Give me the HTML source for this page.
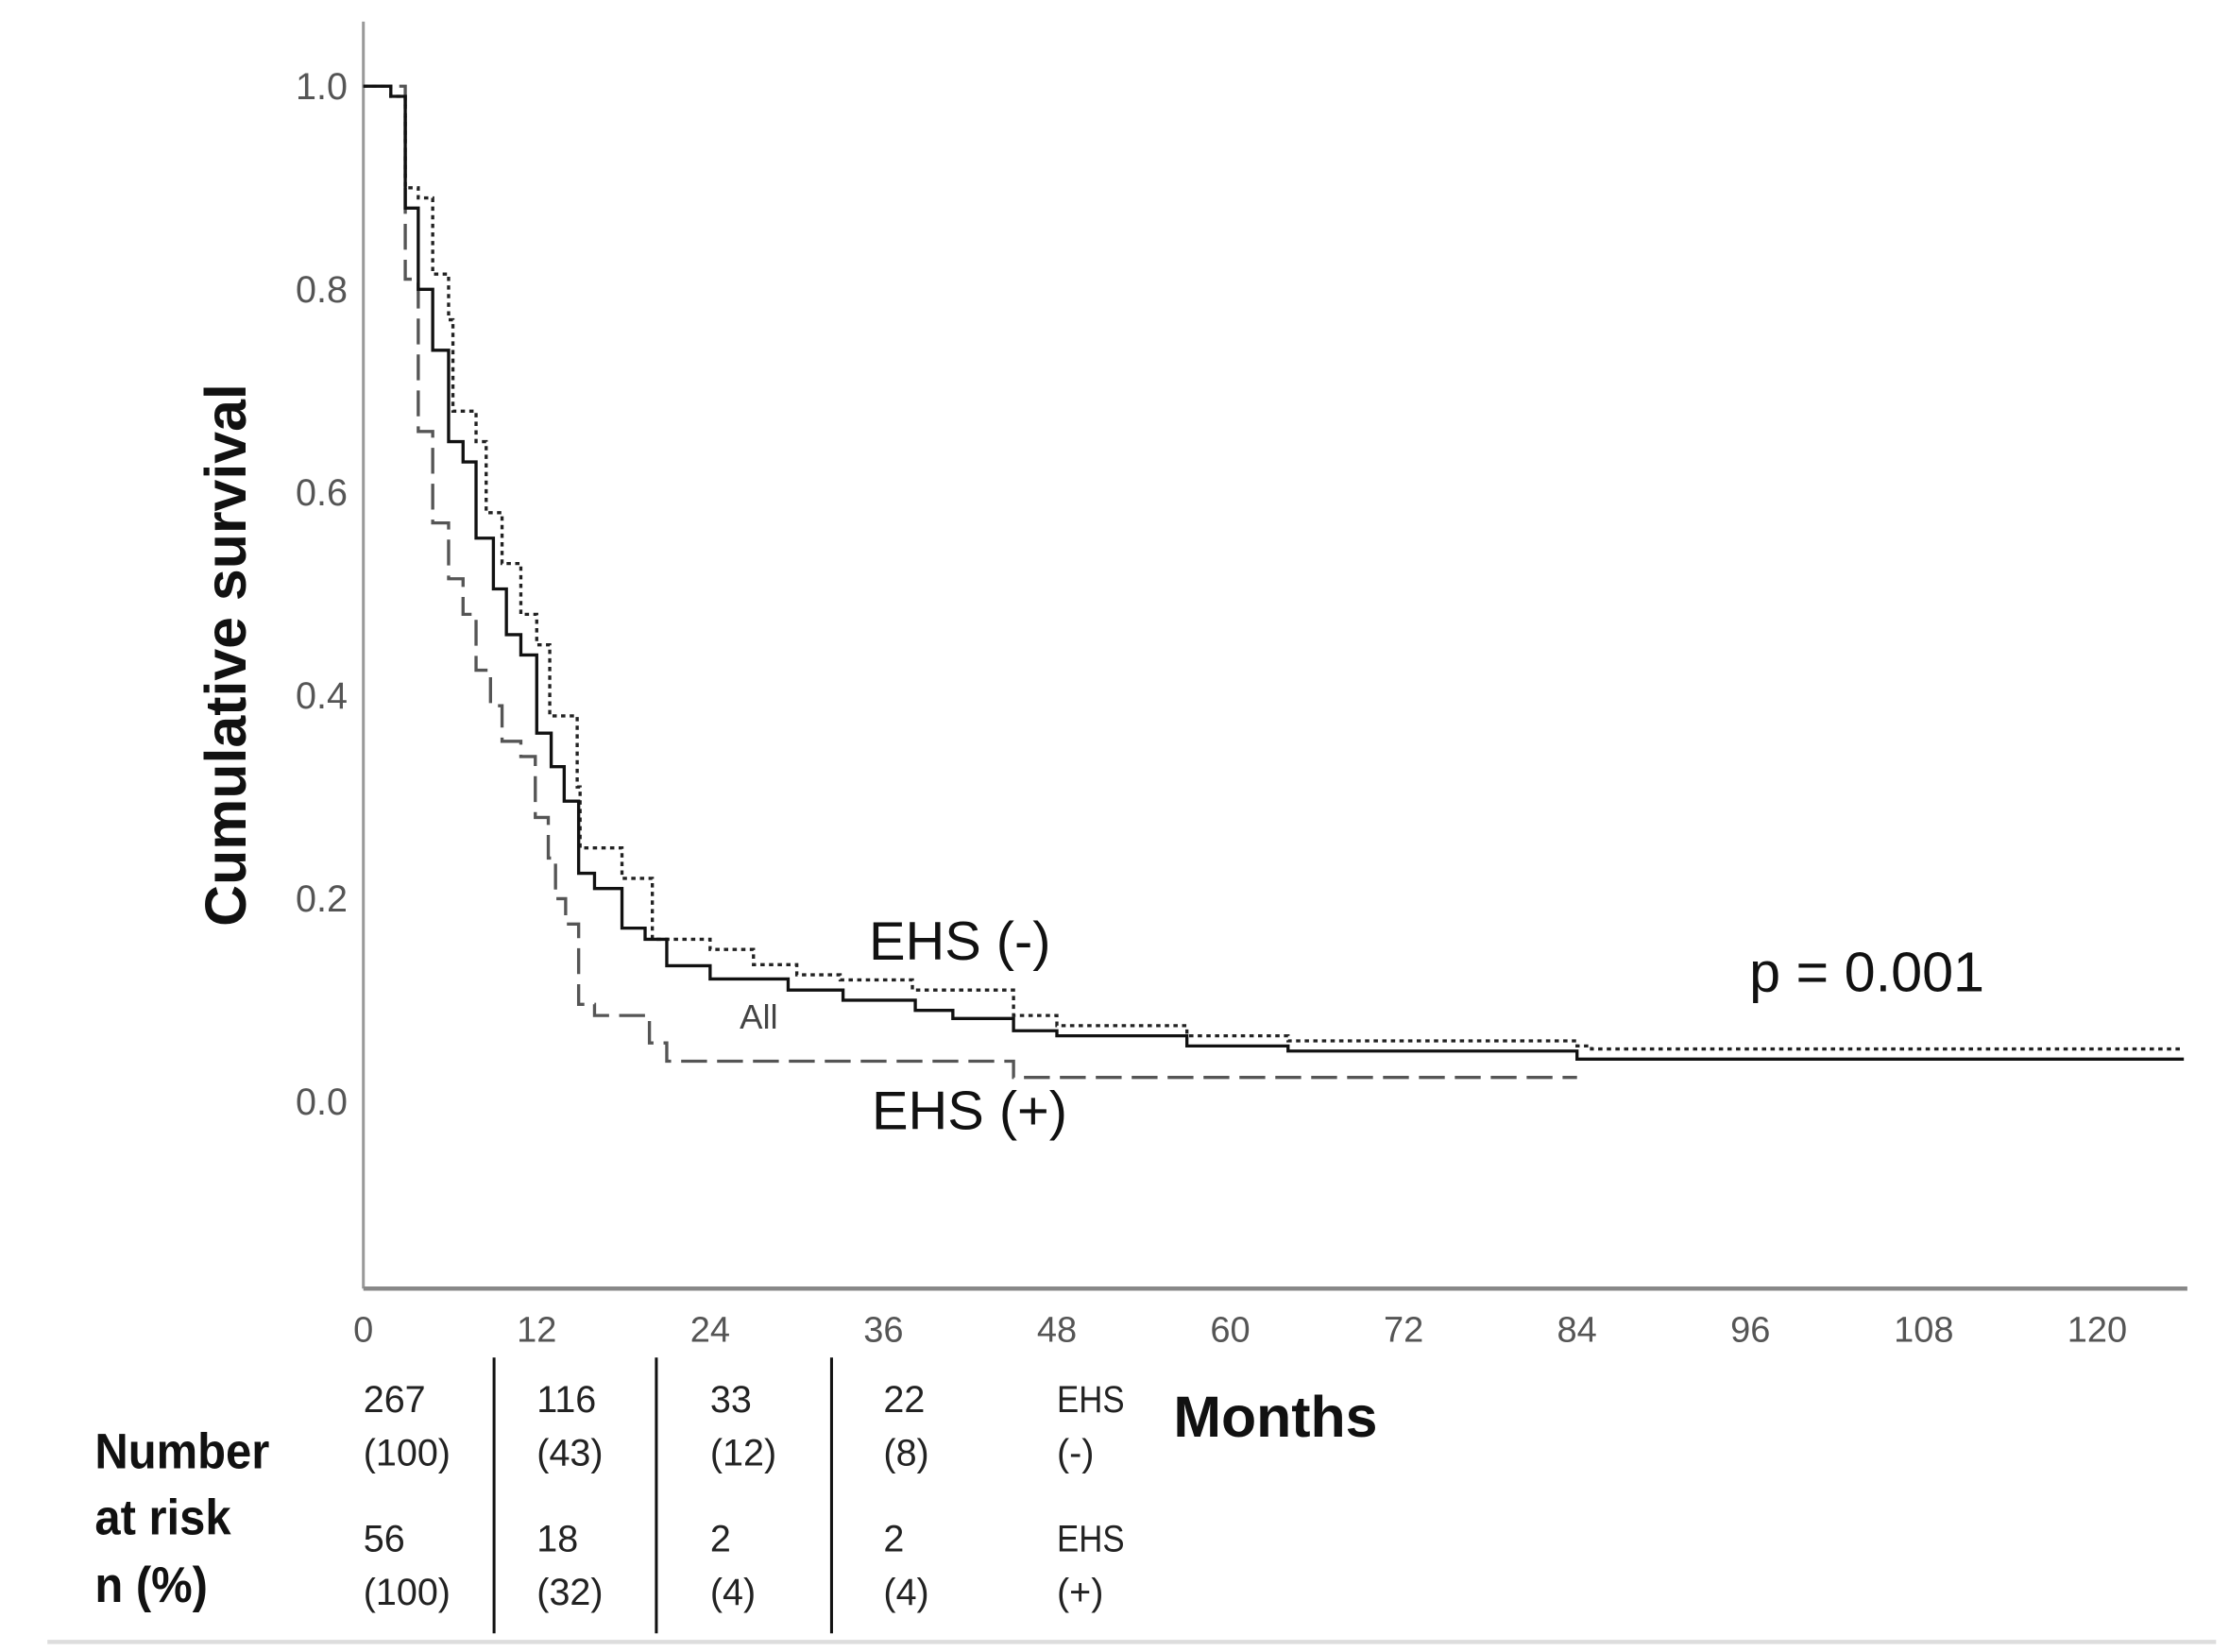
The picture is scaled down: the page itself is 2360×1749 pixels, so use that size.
<!DOCTYPE html>
<html><head><meta charset="utf-8"><style>
html,body{margin:0;padding:0;background:#fff;}
svg{display:block;}
text{font-family:"Liberation Sans",sans-serif;}
</style></head><body>
<svg id="chart" width="2360" height="1749" viewBox="0 0 1552 1150" preserveAspectRatio="none" xmlns="http://www.w3.org/2000/svg">
<rect x="0" y="0" width="1552" height="1150" fill="#fff"/>
<line x1="253" y1="15" x2="253" y2="897" stroke="#999" stroke-width="2"/>
<line x1="253" y1="897" x2="1523" y2="897" stroke="#888" stroke-width="3"/>
<g id="yticks"></g>
<g id="xticks"></g>
<g id="curves"></g>
<text transform="translate(171,456) rotate(-90)" text-anchor="middle" font-size="40" font-weight="bold" fill="#111">Cumulative survival</text>
<text x="605" y="668" font-size="38" fill="#111">EHS (-)</text>
<text x="607" y="786" font-size="38" fill="#111">EHS (+)</text>
<text x="515" y="716" font-size="24" fill="#444">All</text>
<text x="1218" y="690" font-size="39" fill="#111">p = 0.001</text>
<text x="817" y="1000" font-size="40" font-weight="bold" fill="#111">Months</text>
<g font-size="35" font-weight="bold" fill="#111">
<text transform="translate(66,1022) scale(0.92,1)">Number</text><text transform="translate(66,1068) scale(0.92,1)">at risk</text><text transform="translate(66,1115) scale(0.92,1)">n (%)</text>
</g>
<g id="risk" font-size="26" fill="#222"></g>
<line x1="344" y1="945" x2="344" y2="1137" stroke="#111" stroke-width="2"/>
<line x1="457" y1="945" x2="457" y2="1137" stroke="#111" stroke-width="2"/>
<line x1="579" y1="945" x2="579" y2="1137" stroke="#111" stroke-width="2"/>
<line x1="33" y1="1143" x2="1543" y2="1143" stroke="#ddd" stroke-width="3"/>
</svg>
<script>
const yTicks = ["1.0","0.8","0.6","0.4","0.2","0.0"];
const yTickValues = [1.0,0.8,0.6,0.4,0.2,0.0];
const xTicks = [0,12,24,36,48,60,72,84,96,108,120];
const allT = [0,1.9,2.9,3.8,4.8,5.9,6.9,7.8,9,9.9,10.9,12,13,13.9,14.9,16,17.9,19.5,21,24,29.4,33.2,38.2,40.8,45,48,57,64,84,126];
const allS = [1,0.99,0.88,0.80,0.74,0.65,0.63,0.555,0.505,0.46,0.44,0.363,0.33,0.296,0.225,0.21,0.171,0.16,0.134,0.121,0.11,0.10,0.09,0.082,0.07,0.065,0.055,0.05,0.042,0.042];
const negT = [0,1.9,2.9,3.8,4.8,5.9,6.2,7.8,8.5,9.6,10.9,12,12.9,14.8,15,17.9,20,24,27,30,33,38,45,48,57,64,84,85,126];
const negS = [1,0.99,0.90,0.89,0.815,0.77,0.68,0.65,0.58,0.53,0.48,0.45,0.38,0.31,0.25,0.22,0.16,0.15,0.135,0.125,0.12,0.11,0.085,0.075,0.065,0.06,0.055,0.052,0.052];
const posT = [0,2.9,3.8,4.8,5.9,6.9,7.8,8.8,9.6,10.9,11.9,12.8,13.3,14,14.9,16,19.8,21,45,84];
const posS = [1,0.81,0.66,0.57,0.515,0.48,0.425,0.39,0.355,0.34,0.28,0.24,0.20,0.175,0.096,0.085,0.058,0.04,0.024,0.024];
const riskCols = [0,12,24,36,48];
const riskNeg = ["267","116","33","22","EHS"];
const riskNegPct = ["(100)","(43)","(12)","(8)","(-)"];
const riskPos = ["56","18","2","2","EHS"];
const riskPosPct = ["(100)","(32)","(4)","(4)","(+)"];

const NS="http://www.w3.org/2000/svg";
const xs = m => 253 + m*10.06;
const ys = v => 767 - v*707;
function mk(tag, attrs, parent, txt){const e=document.createElementNS(NS,tag);for(const k in attrs)e.setAttribute(k,attrs[k]);if(txt!==undefined)e.textContent=txt;parent.appendChild(e);return e;}

const yg=document.getElementById('yticks');
yTicks.forEach((t,i)=>{const e=mk('text',{x:242,y:ys(yTickValues[i])+9,'text-anchor':'end','font-size':26,fill:'#555'},yg,t);

});
const xg=document.getElementById('xticks');
xTicks.forEach(t=>{const e=mk('text',{x:xs(t),y:934,'text-anchor':'middle','font-size':25,fill:'#555'},xg,String(t));

});

function stepPath(T,S){let d='M'+xs(T[0])+','+ys(S[0]);for(let i=1;i<T.length;i++){d+=' H'+xs(T[i])+' V'+ys(S[i]);}return d;}
const cg=document.getElementById('curves');
const pNeg=mk('path',{d:stepPath(negT,negS),fill:'none',stroke:'#222','stroke-width':2.2,'stroke-dasharray':'3 3'},cg);


const pPos=mk('path',{d:stepPath(posT,posS),fill:'none',stroke:'#555','stroke-width':2.2,'stroke-dasharray':'18 7'},cg);


const pAll=mk('path',{d:stepPath(allT,allS),fill:'none',stroke:'#111','stroke-width':2.2},cg);



const rg=document.getElementById('risk');
riskCols.forEach((c,i)=>{
 const x=xs(c);
 [[riskNeg,983],[riskNegPct,1020],[riskPos,1080],[riskPosPct,1117]].forEach(([arr,y])=>{
  const sx = arr[i]==="EHS" ? 0.88 : 1;
  const e=mk('text',{transform:'translate('+x+','+y+') scale('+sx+',1)'},rg,arr[i]);
  
  
 });
});
</script>
</body></html>
